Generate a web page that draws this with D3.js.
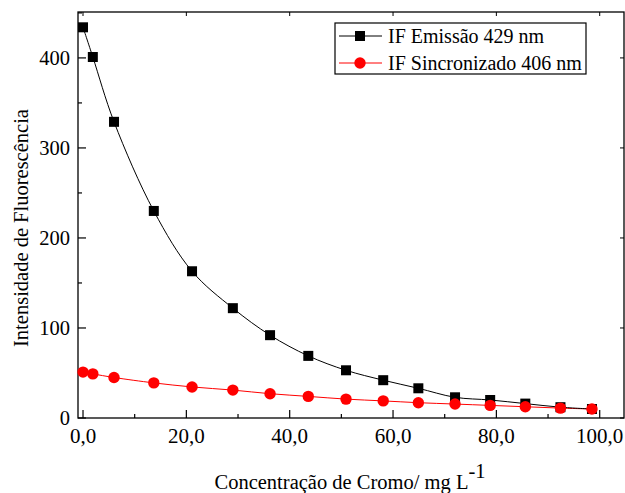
<!DOCTYPE html>
<html>
<head>
<meta charset="utf-8">
<script src="https://cdn.jsdelivr.net/npm/d3@7"></script>
<style>
  body { margin: 0; background: #fff; }
</style>
</head>
<body>
<svg id="drawing_region"></svg>
<script>
// concentration (mg/L)
const conc = [0, 1.9, 6.0, 13.7, 21.1, 29.0, 36.2, 43.6, 50.9, 58.1, 64.9, 72.0, 78.8, 85.6, 92.4, 98.5];
const emissao = [434, 401, 329, 230, 163, 122, 92, 69, 53, 42, 33, 23, 20, 16, 12, 10];
const sincronizado = [51, 49, 45, 39, 34.5, 31, 27, 24, 21, 19, 17, 15.5, 14, 12.5, 11, 10];
const xTicks = [0, 20, 40, 60, 80, 100];
const yTicks = [0, 100, 200, 300, 400];
const seriesNames = ["IF Emissão 429 nm", "IF Sincronizado 406 nm"];

const config = {
    width: 625,
    height: 493,
    margin: {top: 12, right: 1, bottom: 75, left: 78}
};

const svg = d3.select('#drawing_region')
    .attr('width', config.width)
    .attr('height', config.height)
    .style('font-family', "'Liberation Serif', 'Times New Roman', Tinos, 'DejaVu Serif'");

const innerW = config.width - config.margin.left - config.margin.right;
const innerH = config.height - config.margin.top - config.margin.bottom;

const chart = svg.append('g')
    .attr('transform', `translate(${config.margin.left}, ${config.margin.top})`);

const xScale = d3.scaleLinear().domain([-0.97, 104.7]).range([0, innerW]);
const yScale = d3.scaleLinear().domain([0, 451]).range([innerH, 0]);

const fmtX = d => d3.format(".1f")(d).replace(".", ",");

// frame
chart.append('rect')
    .attr('width', innerW).attr('height', innerH)
    .attr('fill', 'none').attr('stroke', 'black').attr('stroke-width', 1.3);

// bottom axis (ticks inward)
const xMinor = d3.range(10, 101, 20);
const yMinor = d3.range(50, 451, 100);

chart.selectAll('line.xmaj').data(xTicks).enter().append('line')
    .attr('x1', d => xScale(d)).attr('x2', d => xScale(d))
    .attr('y1', innerH).attr('y2', innerH - 8)
    .attr('stroke', 'black').attr('stroke-width', 1.2);
chart.selectAll('line.xmin').data(xMinor).enter().append('line')
    .attr('x1', d => xScale(d)).attr('x2', d => xScale(d))
    .attr('y1', innerH).attr('y2', innerH - 4)
    .attr('stroke', 'black').attr('stroke-width', 1.2);
// top ticks
chart.selectAll('line.xtop').data(xTicks).enter().append('line')
    .attr('x1', d => xScale(d)).attr('x2', d => xScale(d))
    .attr('y1', 0).attr('y2', 4)
    .attr('stroke', 'black').attr('stroke-width', 1);
chart.selectAll('text.xlab').data(xTicks).enter().append('text')
    .attr('x', d => xScale(d)).attr('y', innerH + 25)
    .attr('text-anchor', 'middle')
    .attr('font-size', 21)
    .text(fmtX);

// left axis
chart.selectAll('line.ymaj').data(yTicks).enter().append('line')
    .attr('x1', 0).attr('x2', 8)
    .attr('y1', d => yScale(d)).attr('y2', d => yScale(d))
    .attr('stroke', 'black').attr('stroke-width', 1.2);
chart.selectAll('line.ymin').data(yMinor).enter().append('line')
    .attr('x1', 0).attr('x2', 4)
    .attr('y1', d => yScale(d)).attr('y2', d => yScale(d))
    .attr('stroke', 'black').attr('stroke-width', 1.2);
chart.selectAll('line.yright').data(yTicks).enter().append('line')
    .attr('x1', innerW).attr('x2', innerW - 4)
    .attr('y1', d => yScale(d)).attr('y2', d => yScale(d))
    .attr('stroke', 'black').attr('stroke-width', 1);
chart.selectAll('text.ylab').data(yTicks).enter().append('text')
    .attr('x', -8).attr('y', d => yScale(d) + 7)
    .attr('text-anchor', 'end')
    .attr('font-size', 20.5)
    .text(d => d);

// axis titles
const xt = svg.append('text')
    .attr('x', 350).attr('y', 489)
    .attr('text-anchor', 'middle')
    .attr('font-size', 20.5);
xt.append('tspan').text('Concentração de Cromo/ mg L');
xt.append('tspan').attr('dy', -11).text('-1');

svg.append('text')
    .attr('transform', 'translate(28, 228) rotate(-90)')
    .attr('text-anchor', 'middle')
    .attr('font-size', 20.5)
    .text('Intensidade de Fluorescência');

// lines
const line = vals => d3.line()
    .x((d, i) => xScale(conc[i]))
    .y(d => yScale(d))
    .curve(d3.curveCatmullRom)(vals);

chart.append('path').attr('d', line(sincronizado))
    .attr('fill', 'none').attr('stroke', 'red').attr('stroke-width', 1);
chart.append('path').attr('d', line(emissao))
    .attr('fill', 'none').attr('stroke', 'black').attr('stroke-width', 1);

chart.selectAll('rect.sq').data(emissao).enter().append('rect')
    .attr('x', (d, i) => xScale(conc[i]) - 5)
    .attr('y', d => yScale(d) - 5)
    .attr('width', 10).attr('height', 10)
    .attr('fill', 'black');

chart.selectAll('circle.pt').data(sincronizado).enter().append('circle')
    .attr('cx', (d, i) => xScale(conc[i]))
    .attr('cy', d => yScale(d))
    .attr('r', 5.7)
    .attr('fill', 'red');

// legend
const lg = svg.append('g');
lg.append('rect')
    .attr('x', 335).attr('y', 23).attr('width', 251).attr('height', 51)
    .attr('fill', 'white').attr('stroke', 'black').attr('stroke-width', 1.2);
const legendColors = ['black', 'red'];
seriesNames.forEach((name, i) => {
    const y = 36 + i * 27;
    lg.append('line').attr('x1', 339).attr('x2', 382).attr('y1', y).attr('y2', y)
        .attr('stroke', legendColors[i]).attr('stroke-width', 1);
    if (i === 0) {
        lg.append('rect').attr('x', 355).attr('y', y - 5).attr('width', 10).attr('height', 10).attr('fill', 'black');
    } else {
        lg.append('circle').attr('cx', 360).attr('cy', y).attr('r', 5.7).attr('fill', 'red');
    }
    lg.append('text').attr('x', 388).attr('y', y + 7)
        .attr('font-size', 20).text(name);
});
</script>
</body>
</html>
